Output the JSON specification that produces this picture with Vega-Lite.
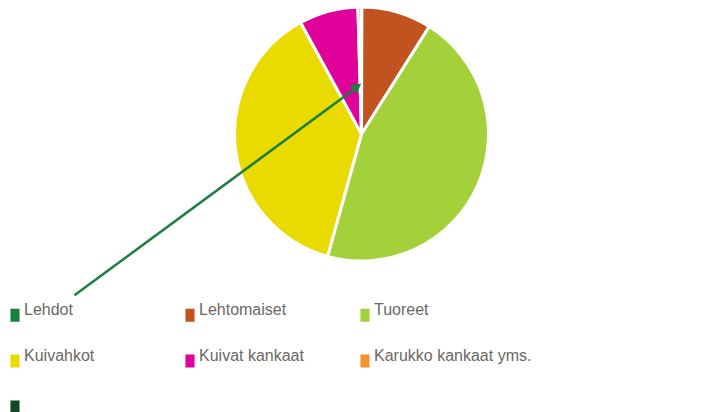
{
  "$schema": "https://vega.github.io/schema/vega-lite/v6.json",
  "autosize": "none",
  "width": 723,
  "height": 268,
  "padding": {"left": 0, "top": 0, "right": 0, "bottom": 144},
  "background": "white",
  "config": {"view": {"stroke": null}},
  "datasets": {
    "slices": [
      {"luokka": "Lehdot", "osuus": 0.05, "jarjestys": 1},
      {"luokka": "Lehtomaiset", "osuus": 8.9, "jarjestys": 2},
      {"luokka": "Tuoreet", "osuus": 45.3, "jarjestys": 3},
      {"luokka": "Kuivahkot", "osuus": 37.7, "jarjestys": 4},
      {"luokka": "Kuivat kankaat", "osuus": 7.5, "jarjestys": 5},
      {"luokka": "Karukko kankaat yms.", "osuus": 0.45, "jarjestys": 6},
      {"luokka": " ", "osuus": 0, "jarjestys": 7}
    ],
    "leader": [
      {"x": -2.26, "y": -1.27, "x2": -0.06, "y2": 0.35}
    ],
    "arrowhead": [
      {"x": -0.045, "y": 0.365, "kulma": 54}
    ]
  },
  "layer": [
    {
      "data": {"name": "slices"},
      "mark": {"type": "arc", "outerRadius": 127, "stroke": "white", "strokeWidth": 3},
      "encoding": {
        "theta": {"field": "osuus", "type": "quantitative", "stack": true},
        "order": {"field": "jarjestys", "type": "quantitative"},
        "color": {
          "field": "luokka",
          "type": "nominal",
          "sort": null,
          "scale": {
            "domain": ["Lehdot", "Lehtomaiset", "Tuoreet", "Kuivahkot", "Kuivat kankaat", "Karukko kankaat yms.", " "],
            "range": ["#1a7f3f", "#c0531f", "#a4d13a", "#e9db00", "#e0009a", "#f39433", "#0f4a25"]
          },
          "legend": {
            "title": null,
            "orient": "none",
            "legendX": 7,
            "legendY": 307,
            "direction": "horizontal",
            "columns": 3,
            "gridAlign": "all",
            "columnPadding": -7,
            "rowPadding": 26,
            "symbolType": "M-0.7,-1L0.7,-1L0.7,1L-0.7,1Z",
            "symbolSize": 170,
            "symbolStrokeWidth": 0,
            "symbolOpacity": 1,
            "labelFont": "Liberation Sans",
            "labelFontSize": 16,
            "labelColor": "#6b6862",
            "labelBaseline": "alphabetic",
            "labelOffset": 1,
            "labelLimit": 300
          }
        }
      }
    },
    {
      "data": {"name": "leader"},
      "mark": {"type": "rule", "color": "#1a7f3f", "strokeWidth": 2.5, "clip": false},
      "encoding": {
        "x": {"field": "x", "type": "quantitative", "scale": {"domain": [-2.846, 2.846]}, "axis": null},
        "y": {"field": "y", "type": "quantitative", "scale": {"domain": [-1.055, 1.055]}, "axis": null},
        "x2": {"field": "x2"},
        "y2": {"field": "y2"}
      }
    },
    {
      "data": {"name": "arrowhead"},
      "mark": {"type": "point", "shape": "triangle", "filled": true, "color": "#1a7f3f", "size": 130, "opacity": 1, "clip": false},
      "encoding": {
        "x": {"field": "x", "type": "quantitative", "scale": {"domain": [-2.846, 2.846]}, "axis": null},
        "y": {"field": "y", "type": "quantitative", "scale": {"domain": [-1.055, 1.055]}, "axis": null},
        "angle": {"field": "kulma", "type": "quantitative", "scale": null}
      }
    }
  ]
}
